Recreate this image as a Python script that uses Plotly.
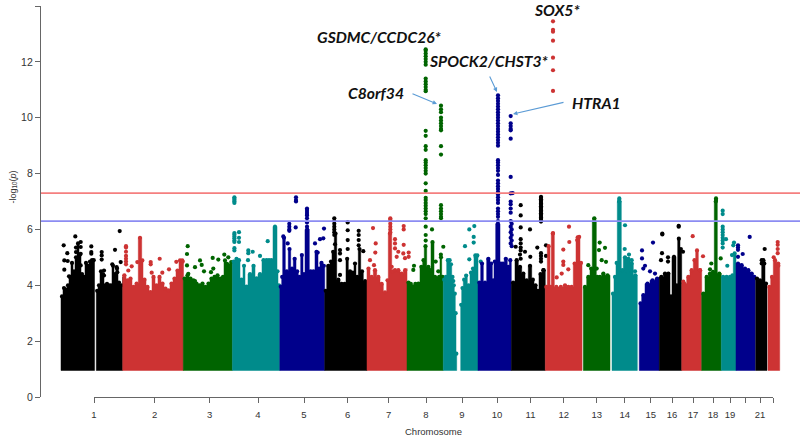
import plotly.graph_objects as go

BLACK, RED, GREEN, CYAN, NAVY = "#000000", "#CD3333", "#006400", "#008B8B", "#00008B"

tick_pos = [94, 154.7, 209.7, 258, 304, 347.7, 388.7, 426, 462, 497, 530.5, 563.7, 596.7, 624.7, 650.7, 672, 693, 713, 730, 760]
tick_txt = ["1","2","3","4","5","6","7","8","9","10","11","12","13","14","15","16","17","18","19","21"]
unlabelled_ticks = [745, 773]
y_ticks = [0, 2, 4, 6, 8, 10, 12, 14]
suggestive = 6.3
genome_wide = 7.3

chr1a_x = [61,63,65,67,69,71,73,75,77,79,81,83,85,87,89,91,93,94.5]
chr1a_top = [3.6,3.9,3.85,4.0,4.3,4.8,4.5,5.0,5.5,5.1,4.4,4.3,4.8,4.7,4.85,4.9,4.9,4.9]
chr1a_dx = [63.7,67.3,64.3,67.7,64.3,69,75.3,76,76,80.7,80.7,80.7,80.7,91.3,91.3,91.3]
chr1a_dy = [5.43,5.15,4.89,4.87,4.56,4.32,5.75,5.35,5.19,5.55,5.37,5.13,4.71,5.39,5.19,5.13]

chr1b_x = [96.3,98,100,102,104,106,108,110,112,114,116,118,120,122.7]
chr1b_top = [3.8,4.0,4.5,4.4,4.0,4.05,4.0,4.0,4.7,4.4,4.6,4.1,4.0,4.3]
chr1b_dx = [101.7,101.7,101.7,104,104,115,112.3,116.7,119.7,120.7,117.3]
chr1b_dy = [5.19,5.07,4.92,4.53,4.35,5.27,4.75,4.65,5.94,4.83,4.47]

chr2_x = [122.7,126,129,132,135,138.3,141.7,143,146,149,152,155,158,161,164,167,170,173,176,179,181,183.5]
chr2_top = [4.36,4.18,4.24,3.94,4.06,5.7,4.89,4.2,3.94,3.76,4.3,4.0,4.3,4.06,3.88,3.82,4.06,4.24,4.53,4.89,4.89,4.89]
chr2_dx = [126,126,126,126,126,126,126,128.3,131.7,137.3,150.7,150.7,151.7,159.7,162.3,169,176.3,182.7]
chr2_dy = [5.4,5.35,5.2,5.05,4.95,4.85,4.75,4.53,4.68,4.83,4.83,4.75,4.45,4.95,4.45,4.57,4.84,4.85]

chr3_x = [183.3,186,189,192,195,198,201,204,207,210,213,216,219,222,224,226,228,230,232.4]
chr3_top = [4.24,4.36,4.24,4.18,4.06,4.0,4.06,3.94,4.06,4.24,4.3,4.36,4.24,4.3,4.89,4.77,4.71,4.83,4.83]
chr3_dx = [187.7,187,187,188.3,195,200,201.7,204,195,212.7,218.3,213.3,211,224.3,228.3]
chr3_dy = [5.4,5.12,4.71,4.41,4.65,4.89,4.73,4.5,4.15,4.98,4.92,4.6,4.47,5.1,5.0]

chr4_x = [232.4,235,238,240,243,245,248,252,255,258,262,265,268,270,273,277,278,279.8]
chr4_top = [4.85,4.95,4.9,4.2,4.7,3.95,4.4,4.7,4.25,4.4,4.9,4.9,4.9,4.9,6.1,4.5,4.0,3.95]
chr4_dx = [234.4]*13 + [239,239,239,248.3,248.3,252.7,267.7,260,248]
chr4_dy = [5.87,5.82,5.75,5.68,5.6,5.55,5.33,5.25,7.15,7.1,7.05,7.0,6.95,5.9,5.7,5.55,5.25,5.15,5.2,5.58,5.05,4.9]

chr5_x = [279.8,281.7,282.7,285.3,288.3,290.7,293.3,296,298.3,300.7,303,305,309.3,312,315,318,320,323,324.7]
chr5_top = [3.95,4.3,5.7,4.5,5.3,4.6,4.95,4.5,4.3,5.08,4.4,6.0,4.5,4.5,5.2,4.6,4.8,4.7,4.7]
chr5_dx = [296,296,296,289.3,289.3,289.3,289.3,295.7,307,307,307,307,307,307,307,307,324,315,320,323.3,317.7,287.7,283.3]
chr5_dy = [7.15,7.05,7.0,6.2,6.1,6.0,5.95,6.07,6.75,6.7,6.62,6.55,6.5,6.4,6.25,6.1,6.03,5.5,5.65,5.68,5.17,5.5,5.75]

chr6_x = [324.7,326.7,330,332,334.3,336.7,340,343.3,346,348.3,351.7,354,356,358.3,360.7,363.3,367]
chr6_top = [3.8,4.7,4.85,5.2,5.85,4.2,4.05,4.05,4.95,4.5,4.45,4.78,4.3,5.3,4.5,4.15,4.15]
chr6_dx = [334.3]*7 + [347.7,347.7,347.7,347.7,358.7,358.7,358.7,358.7,363.3,340,340,340,335,340]
chr6_dy = [6.4,6.3,6.2,6.1,6.0,5.9,5.8,6.25,5.97,5.62,5.3,5.95,5.8,5.62,5.43,5.22,5.26,5.14,4.9,5.47,4.37]

chr7_x = [367,370,373.3,376.7,380,383.3,386.7,388.3,391.7,393.3,396.7,400,403.3,407]
chr7_top = [4.6,4.3,4.54,4.3,4.05,3.75,4.18,5.85,4.5,4.54,4.54,4.42,4.54,4.6]
chr7_dx = [390.3]*7 + [373,375.7,375.3,370,374,403.7,403.7,403.7,395,395,395,398.3,396.7,403.3,405,408.7,408.7,391.7]
chr7_dy = [6.4,6.35,6.3,6.2,6.1,6.0,5.9,6.05,5.5,5.17,4.9,4.72,6.12,6.0,5.45,5.65,5.5,5.32,5.2,5.02,5.14,4.97,5.17,5.02,4.66]

chr8_x = [407,410,411.7,414,416.7,420,422.7,424.3,426.7,430,431,434,436,438.3,440,441.7,443.3]
chr8_top = [4.1,4.05,3.95,4.05,4.06,4.66,4.9,5.4,4.66,4.54,5.55,4.3,4.25,4.3,5.1,4.3,4.25]
chr8_gsdmc = [12.45,12.4,12.3,12.2,12.1,12.0,11.9,11.4,11.3,11.2,11.1,11.0,10.95,9.53,9.35,8.98,8.85,8.48,8.4,8.3,8.2,8.1,8.0,7.65,7.38,7.13,7.05,6.95,6.85,6.75,6.65,6.55,6.4,6.1,5.8,5.6]
chr8_c8orf34 = [10.43,10.3,10.2,10.0,9.9,9.8,9.7,9.6,9.55,8.98,8.68,6.87,6.75,6.65,6.55,6.45,6.4]
chr8_dx = [425.7]*36 + [441]*17 + [432,414,413.3,435.7,438.3,443.3,441]
chr8_dy = chr8_gsdmc + chr8_c8orf34 + [6.0,4.7,4.55,4.85,4.5,5.38,5.0]

chr9a_x = [443.3,445,446.7,449,450.3,451.7,453.3,454.3,455.3,456,456.7]
chr9a_top = [4.2,4.3,4.9,4.9,4.75,4.3,4.0,3.7,3.0,1.55,1.55]
chr9a_dx = [453.3]
chr9a_dy = [4.15]

chr9b_x = [460.7,461.7,463.3,465,467.3,470,472,474,476.7,478]
chr9b_top = [3.3,3.9,4.2,4.35,4.0,4.45,4.6,5.07,5.07,4.4]
chr9b_dx = [465,469.3,474.3,473.7,473.7,469.3,476,480.7]
chr9b_dy = [5.4,6.0,6.12,5.73,5.53,4.93,5.0,4.85]

chr10_x = [478,480.7,483.3,486.7,490,492.3,494,495.7,500,501.7,504.3,507.3,509.3,511.3]
chr10_top = [4.1,4.78,4.1,4.95,4.78,4.18,4.85,6.2,4.78,4.78,4.95,4.66,4.9,4.9]
chr10_spock2 = [10.8,10.7,10.6,10.5,10.4,10.3,10.2,10.1,10.0,9.9,9.8,9.7,9.6,9.5,9.4,9.3,9.2,9.1,9.0,8.48,8.4,8.3,8.2,8.1,7.95,7.75,7.65,7.55,7.45,7.35,7.25,7.15,7.05,6.95,6.75,6.65,6.55,6.45,6.3]
chr10_htra1 = [10.06,9.8,9.7,9.6,9.55,9.25,7.88,7.29,7.0,6.9,6.75,6.6,6.3,6.1,5.9,5.7,5.5]
chr10_dx = [498]*39 + [510.7]*17 + [512.7,511.7,511.7,511.7,511.7,511.7]
chr10_dy = chr10_spock2 + chr10_htra1 + [7.3,6.2,6.0,5.8,5.6,5.4]

chr11_x = [511.3,515,518.3,521.7,525,528.3,531.7,534,537,539,542,545.3]
chr11_top = [4.1,4.9,4.66,4.42,4.18,4.7,4.2,4.0,3.8,4.4,4.54,4.2]
chr11_col = [7.17,7.13,7.08,7.03,6.98,6.93,6.88,6.83,6.78,6.73,6.68,6.63,6.58,6.53,6.48,6.43,6.38,6.33,6.28,5.15,5.05,4.95,4.85]
chr11_dx = [520.7]*8 + [530,537.3,525,515.7,520] + [541]*23 + [530.3,546,546,543.3]
chr11_dy = [6.87,6.5,6.07,5.65,5.5,5.35,5.25,4.95,6.0,5.35,5.2,5.38,5.1] + chr11_col + [5.02,5.43,5.05,4.54]

chr12_x = [545.3,547.3,550,551.3,554.3,558.3,563.3,566.7,570,573.3,576,578.3,580,582]
chr12_top = [3.94,5.4,3.94,5.85,3.94,3.94,4.0,3.94,3.94,4.78,5.62,5.73,4.8,4.0]
chr12_dx = [569,569.3,563.3,563.3,563.3,577.7,553,561.7,568.3,556.7]
chr12_dy = [6.1,5.55,5.28,4.85,4.73,5.72,5.87,4.42,4.57,4.28]
chr12_sox5_x = [553.0]*7
chr12_sox5_y = [13.45,13.15,13.08,12.76,12.15,11.7,10.96]

chr13_x = [583.3,586.7,590,592.3,596.3,598.3,601.7,605,610]
chr13_top = [3.94,4.3,4.6,6.3,4.3,4.3,4.42,4.36,4.24]
chr13_dx = [594.3,594.3,599.7,605,599,601.7,606,588.3,596.7]
chr13_dy = [6.4,6.37,5.53,5.34,5.26,4.9,4.84,4.72,4.6]

chr14_x = [612,614,616,617.3,621.3,623.3,626.7,630,633.3,637.3]
chr14_top = [3.7,4.3,4.8,7.0,4.54,5.0,4.95,4.78,4.36,4.3]
chr14_dx = [619.3,619.3,619.3,625,624.7,629,631.7,627.7,635]
chr14_dy = [7.11,7.05,7.0,6.15,5.3,5.1,4.9,4.5,4.5]

chr15_x = [639.3,641.7,645,650,655,659.3]
chr15_top = [3.35,3.65,4.06,4.18,4.24,4.3]
chr15_dx = [642,642,653,645,643.3,650,655]
chr15_dy = [5.25,4.96,5.53,4.7,4.6,4.5,4.42]

chr16_x = [659.3,663.3,666.7,670,672,676,677.7,680,681.7]
chr16_top = [4.3,4.42,4.42,3.6,5.02,4.0,5.67,5.3,5.3]
chr16_dx = [662.3,662.3,678.7,678.7,662,668,668,661,683]
chr16_dy = [5.85,5.82,6.13,6.1,5.15,5.0,4.85,4.9,5.2]

chr17_x = [681.7,686.7,690,693.3,695.7,698.3,701.7]
chr17_top = [4.06,4.3,4.54,4.9,5.25,4.54,4.18]
chr17_dx = [692.7,703,683.3,700]
chr17_dy = [5.76,5.04,4.13,4.54]

chr18_x = [701.7,705,708.3,711.7,714.3,717.3,721.3]
chr18_top = [3.7,4.3,4.42,4.48,7.0,4.42,4.42]
chr18_dx = [716,716,711.3,720.7,710]
chr18_dy = [7.11,7.05,4.78,4.96,4.57]

chr19_x = [721.3,725,728.3,731.7,733.3,736]
chr19_top = [4.3,4.3,4.3,4.36,5.14,4.54]
chr19_dx = [722.7]*10 + [726,727.3,734,733.3,732]
chr19_dy = [6.67,6.55,6.1,6.0,5.9,5.8,5.7,5.6,5.5,5.35,5.65,4.7,5.53,5.43,5.08]

chr20_x = [736,740,743.3,746.7,750,753.3,755.3]
chr20_top = [4.78,4.72,4.6,4.54,4.42,4.3,4.3]
chr20_dx = [749.7,738,738,738,742.7,738]
chr20_dy = [5.73,5.43,5.35,5.27,5.12,5.02]

chr21_x = [755.7,758.3,761.7,765,767]
chr21_top = [4.24,4.18,4.9,4.06,3.94]
chr21_dx = [764.7,761.7,761.7,764.3,764]
chr21_dy = [5.3,4.9,4.78,4.78,4.06]

chr22_x = [768,770.7,773.3,776.7,779.7]
chr22_top = [3.94,4.3,4.9,4.78,4.18]
chr22_dx = [777.7,777.7,777.7,777.7,773.7,778.3]
chr22_dy = [5.55,5.45,5.3,5.15,5.0,4.7]

CHROMS = [
    (chr1a_x, chr1a_top, chr1a_dx, chr1a_dy, BLACK), (chr1b_x, chr1b_top, chr1b_dx, chr1b_dy, BLACK),
    (chr2_x, chr2_top, chr2_dx, chr2_dy, RED), (chr3_x, chr3_top, chr3_dx, chr3_dy, GREEN),
    (chr4_x, chr4_top, chr4_dx, chr4_dy, CYAN), (chr5_x, chr5_top, chr5_dx, chr5_dy, NAVY),
    (chr6_x, chr6_top, chr6_dx, chr6_dy, BLACK), (chr7_x, chr7_top, chr7_dx, chr7_dy, RED),
    (chr8_x, chr8_top, chr8_dx, chr8_dy, GREEN), (chr9a_x, chr9a_top, chr9a_dx, chr9a_dy, CYAN),
    (chr9b_x, chr9b_top, chr9b_dx, chr9b_dy, CYAN), (chr10_x, chr10_top, chr10_dx, chr10_dy, NAVY),
    (chr11_x, chr11_top, chr11_dx, chr11_dy, BLACK),
    (chr12_x, chr12_top, chr12_dx + chr12_sox5_x, chr12_dy + chr12_sox5_y, RED),
    (chr13_x, chr13_top, chr13_dx, chr13_dy, GREEN), (chr14_x, chr14_top, chr14_dx, chr14_dy, CYAN),
    (chr15_x, chr15_top, chr15_dx, chr15_dy, NAVY), (chr16_x, chr16_top, chr16_dx, chr16_dy, BLACK),
    (chr17_x, chr17_top, chr17_dx, chr17_dy, RED), (chr18_x, chr18_top, chr18_dx, chr18_dy, GREEN),
    (chr19_x, chr19_top, chr19_dx, chr19_dy, CYAN), (chr20_x, chr20_top, chr20_dx, chr20_dy, NAVY),
    (chr21_x, chr21_top, chr21_dx, chr21_dy, BLACK), (chr22_x, chr22_top, chr22_dx, chr22_dy, RED),
]

W, H = 800, 437
L, T, B = 41, 6, 40
BASE = 0.95
fig = go.Figure()

for xs, tops, dx, dy, col in CHROMS:
    fig.add_trace(go.Scatter(
        x=[xs[0]] + xs + [xs[-1], xs[0]], y=[BASE] + tops + [BASE, BASE],
        mode="lines", line=dict(width=0.5, color=col, shape="hv"), fill="toself", fillcolor=col,
        hoverinfo="skip", showlegend=False))
    mids = [(a + b) / 2 for a, b in zip(xs[:-1], xs[1:])]
    fig.add_trace(go.Scatter(
        x=mids + dx, y=tops[:-1] + dy, mode="markers",
        marker=dict(size=4.2, color=col, line=dict(width=0)), hoverinfo="skip", showlegend=False))

for level, col in [(genome_wide, "#F57F7F"), (suggestive, "#8C8CF2")]:
    fig.add_trace(go.Scatter(x=[L, W], y=[level, level], mode="lines",
                             line=dict(color=col, width=1.7), hoverinfo="skip", showlegend=False))

fig.add_trace(go.Scatter(x=tick_pos, y=[0] * len(tick_pos), xaxis="x2", mode="markers",
                         marker=dict(opacity=0), hoverinfo="skip", showlegend=False))

TXT = dict(family="Lato", size=15.7, color="#111111")
def py(p):
    return (H - B - p) / (H - B - T)
labels = [("<b><i>GSDMC/CCDC26*</i></b>", 379.5, 37), ("<b><i>SOX5*</i></b>", 556.5, 10),
          ("<b><i>SPOCK2/CHST3*</i></b>", 489, 61), ("<b><i>C8orf34</i></b>", 375.5, 93),
          ("<b><i>HTRA1</i></b>", 596.5, 103)]
ann = []
for text, px, p in labels:
    ann.append(dict(text=text, x=px, y=py(p), xref="x", yref="paper", showarrow=False,
                    xanchor="center", yanchor="middle", font=TXT))
arrows = [(437, 104, 411, 93), (497, 92, 489, 75), (513, 114, 565, 102)]
for x1, y1, x0, y0 in arrows:
    ann.append(dict(x=x1, y=(397 - y1) / 27.93, ax=x0, ay=(397 - y0) / 27.93,
                    xref="x", yref="y", axref="x", ayref="y", showarrow=True, text="",
                    arrowhead=2, arrowsize=0.8, arrowwidth=1.1, arrowcolor="#5B9BD5"))
ann.append(dict(text="Chromosome", x=433.5, y=py(431), xref="x", yref="paper", showarrow=False,
                yanchor="middle", font=dict(family="Liberation Sans", size=9.5, color="#333333")))
ann.append(dict(text="-log<sub>10</sub>(<i>p</i>)", x=-36 / (W - L), y=py(187), xref="paper", yref="paper", textangle=-90,
                showarrow=False, font=dict(family="Liberation Sans", size=9, color="#333333")))

tickfont = dict(family="Liberation Sans", size=9.5, color="#333333")
fig.update_layout(
    width=W, height=H, margin=dict(l=L, r=0, t=T, b=B, autoexpand=False),
    paper_bgcolor="white", plot_bgcolor="rgba(0,0,0,0)", showlegend=False, annotations=ann,
    xaxis=dict(range=[L, W], visible=False, domain=[0, 1], fixedrange=True),
    xaxis2=dict(range=[94, 773], domain=[(94 - L) / (W - L), (773 - L) / (W - L)], anchor="y",
                side="bottom", tickmode="array", tickvals=tick_pos, ticktext=tick_txt,
                minor=dict(tickmode="array", tickvals=unlabelled_ticks, ticks="outside", ticklen=5, tickwidth=1.2, tickcolor="#666666"),
                showgrid=False, zeroline=False, showline=True, linecolor="#666666", linewidth=1.3,
                ticks="outside", ticklen=5, tickwidth=1.2, tickcolor="#666666", tickfont=tickfont, ticklabelstandoff=3),
    yaxis=dict(range=[0, 14], tickmode="array", tickvals=y_ticks, showgrid=False, zeroline=False,
               showline=True, linecolor="#666666", linewidth=1.3, ticks="outside", ticklen=5, tickwidth=1.2,
               tickcolor="#666666", tickfont=dict(family="Liberation Sans", size=10.5, color="#333333"), fixedrange=True),
)
fig.write_html("out.html", config={"displayModeBar": False}, post_script="document.body.style.margin='0';")
